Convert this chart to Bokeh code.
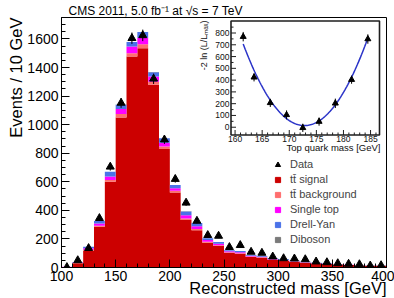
import numpy as np
from bokeh.plotting import figure
from bokeh.models import Range1d, SingleIntervalTicker, Title, Legend, LegendItem
from bokeh.embed import file_html
from bokeh.resources import INLINE
from bokeh.core.properties import value

# ---------------- reconstructed mass spectrum (10 GeV bins) ----------------
bin_low = list(range(100, 400, 10))
signal = [4, 30, 118, 285, 600, 1050, 1477, 1535, 1279, 829, 525, 333, 261, 174, 151,
          104, 97, 74, 68, 54, 48, 40, 34, 28, 24, 21, 17, 14, 12, 12]
tt_background = [0, 2, 6, 8, 12, 25, 23, 28, 22, 18, 12, 10, 8, 6, 5,
                 3, 3, 3, 3, 2, 2, 2, 1, 1, 1, 1, 1, 1, 0, 0]
single_top = [1, 3, 10, 15, 25, 35, 47, 45, 36, 27, 18, 22, 20, 12, 10,
              6, 7, 5, 4, 3, 3, 2, 2, 2, 1, 1, 1, 1, 1, 1]
drell_yan = [1, 4, 12, 18, 33, 30, 31, 40, 30, 30, 22, 27, 23, 13, 13,
             7, 9, 6, 6, 5, 4, 4, 4, 3, 3, 2, 1, 1, 1, 1]
diboson = [0, 0, 0, 0, 0, 1, 1, 1, 1, 1, 1, 1, 0, 0, 0,
           0, 0, 0, 0, 0, 0, 0, 0, 0, 0, 0, 0, 0, 0, 0]
data = [2, 50, 135, 345, 705, 1152, 1605, 1625, 1321, 895, 619, 453, 326, 226, 221,
        142, 156, 109, 102, 76, 64, 62, 57, 41, 36, 29, 25, 22, 13, 15]

component_names = ["t\u0074\u0304 signal", "t\u0074\u0304 background", "Single top",
                   "Drell-Yan", "Diboson"]
component_colors = ["#cc0000", "#ff6e6e", "#ff00ff", "#4a72e8", "#7a7a7a"]

# ---------------- likelihood scan (inset) ----------------
mt_points = [161.5, 163.5, 166.5, 169.5, 172.5, 175.5, 178.5, 181.5, 184.5]
nll_values = [769, 424, 207, 105, -5, 48, 203, 404, 749]
nll_errors = [40, 35, 35, 38, 35, 35, 40, 35, 40]
fit_mt0, fit_curvature, fit_min = 172.8, 5.43, 14.0

inset_x_ticks = [160, 165, 170, 175, 180, 185]
inset_y_ticks = [0, 100, 200, 300, 400, 500, 600, 700, 800]

FONT = "Liberation Sans"
W, H = 394, 298
F_LEFT, F_TOP, F_RIGHT, F_BOTTOM = 61, 17, 386, 267

p = figure(width=W, height=H, output_backend="svg", toolbar_location=None,
           x_range=Range1d(100, 400), y_range=Range1d(0, 1750),
           min_border_left=F_LEFT, min_border_right=W - F_RIGHT,
           min_border_top=F_TOP, min_border_bottom=H - F_BOTTOM)
p.grid.visible = False
p.outline_line_color = "black"
p.outline_line_width = 1
p.background_fill_color = "white"
p.border_fill_color = "white"

# header
p.title.text = "CMS 2011, 5.0 fb\u207b\u00b9 at \u221as = 7 TeV"
p.title.align = "left"
p.title.offset = 7
p.title.standoff = 0
p.title.text_font = FONT
p.title.text_font_size = "12px"
p.title.text_font_style = "normal"
p.title.text_color = "black"

# stacked histogram, drawn as one step area per component
edges = np.array(bin_low + [400], dtype=float)
base = np.zeros(len(bin_low))
for vals, col in zip([signal, tt_background, single_top, drell_yan, diboson], component_colors):
    top = base + np.array(vals, dtype=float)
    p.varea_step(x=edges, y1=np.append(base, base[-1]), y2=np.append(top, top[-1]),
                 step_mode="after", fill_color=col)
    base = top

# data points with Poisson errors
centers = np.array(bin_low) + 5.0
d = np.array(data, dtype=float)
err = np.sqrt(d)
p.segment(x0=centers, y0=d - err, x1=centers, y1=d + err, line_color="black", line_width=1)
r_data = p.scatter(x=centers, y=d, marker="triangle", size=8,
                   fill_color="black", line_color="black")

# axes
for ax, interval, nminor in [(p.xaxis, 50, 5), (p.yaxis, 200, 4)]:
    ax.ticker = SingleIntervalTicker(interval=interval, num_minor_ticks=nminor)
    ax.major_tick_in = 8
    ax.major_tick_out = 0
    ax.minor_tick_in = 4
    ax.minor_tick_out = 0
    ax.axis_line_color = "black"
    ax.major_tick_line_color = "black"
    ax.minor_tick_line_color = "black"
    ax.major_label_text_font = FONT
    ax.major_label_text_font_size = "14px"
    ax.major_label_text_color = "black"
p.xaxis.major_label_standoff = 3
p.yaxis.major_label_standoff = 3

# axis titles, aligned to the top / right ends of the axes
p.add_layout(Title(text="Events / 10 GeV", align="right", standoff=0,
                   text_font=FONT, text_font_size="16.5px", text_font_style="normal",
                   text_color="black"), "left")
p.add_layout(Title(text="Reconstructed mass [GeV]", align="right", vertical_align="top",
                   standoff=-9, text_font=FONT, text_font_size="16.5px",
                   text_font_style="normal", text_color="black"), "below")

# legend
items = [LegendItem(label="Data", renderers=[r_data])]
for name, col in zip(component_names, component_colors):
    r = p.scatter(x=[np.nan], y=[np.nan], marker="square", fill_color=col, line_color=col)
    items.append(LegendItem(label=name, renderers=[r]))
legend = Legend(items=items, location=(210, 21.5), glyph_width=13, glyph_height=13,
                label_height=13, spacing=2, padding=0, margin=0, label_standoff=6,
                label_text_font=FONT, label_text_font_size="11px",
                border_line_color=None, background_fill_alpha=0)
p.add_layout(legend)

# ---------------- inset: likelihood scan ----------------
IN_L, IN_T, IN_R, IN_B = 230.5, 20.5, 379.0, 134.5
IN_X = (159.25, 186.65)
IN_Y = (-66.0, 902.0)
gx = (IN_X[1] - IN_X[0]) / (IN_R - IN_L)
gy = (IN_Y[1] - IN_Y[0]) / (IN_B - IN_T)
p.extra_x_ranges = {"mt": Range1d(IN_X[0] - (IN_L - F_LEFT) * gx, IN_X[1] + (F_RIGHT - IN_R) * gx)}
p.extra_y_ranges = {"nll": Range1d(IN_Y[0] - (F_BOTTOM - IN_B) * gy, IN_Y[1] + (IN_T - F_TOP) * gy)}
kw = dict(x_range_name="mt", y_range_name="nll")

p.quad(left=[IN_X[0]], right=[IN_X[1]], bottom=[IN_Y[0]], top=[IN_Y[1]],
       fill_color="white", line_color="#1e1e1e", line_width=1.6, **kw)

minor_x = [m for m in range(160, 187) if m % 5]
minor_y = [v + 50 for v in inset_y_ticks if v + 50 < IN_Y[1]]
p.ray(x=inset_x_ticks, y=[IN_Y[0]] * len(inset_x_ticks), length=5, length_units="screen",
      angle=np.pi / 2, line_color="#1e1e1e", **kw)
p.ray(x=minor_x, y=[IN_Y[0]] * len(minor_x), length=2.5, length_units="screen",
      angle=np.pi / 2, line_color="#1e1e1e", **kw)
p.ray(x=[IN_X[0]] * len(inset_y_ticks), y=inset_y_ticks, length=5, length_units="screen",
      angle=0, line_color="#1e1e1e", **kw)
p.ray(x=[IN_X[0]] * len(minor_y), y=minor_y, length=2.5, length_units="screen",
      angle=0, line_color="#1e1e1e", **kw)

p.text(x=inset_x_ticks, y=[IN_Y[0]] * len(inset_x_ticks), text=[str(t) for t in inset_x_ticks],
       text_align="center", text_baseline="top", y_offset=1, text_font=value(FONT),
       text_font_size="8.5px", text_color="#111111", **kw)
p.text(x=[IN_X[0]] * len(inset_y_ticks), y=inset_y_ticks, text=[str(t) for t in inset_y_ticks],
       text_align="right", text_baseline="middle", x_offset=-1.5, text_font=value(FONT),
       text_font_size="8.5px", text_color="#111111", **kw)
p.text(x=[IN_X[0] - 27.5 * gx], y=[IN_Y[1] + 0.5 * gy], text=["-2 ln (L/L\u2098\u2090\u2093)"],
       angle=np.pi / 2, text_align="right", text_baseline="middle", text_font=value(FONT),
       text_font_size="9px", text_color="#111111", **kw)
p.text(x=[IN_X[1] + 1 * gx], y=[IN_Y[0] - 12.5 * gy], text=["Top quark mass [GeV]"],
       text_align="right", text_baseline="middle", text_font=value(FONT),
       text_font_size="9.5px", text_color="#111111", **kw)

# fitted parabola
mt_grid = np.linspace(mt_points[0], mt_points[-1], 120)
p.line(x=mt_grid, y=fit_curvature * (mt_grid - fit_mt0) ** 2 + fit_min,
       line_color="#2a33c8", line_width=1.5, **kw)

mv = np.array(nll_values, dtype=float)
me = np.array(nll_errors, dtype=float)
p.segment(x0=mt_points, y0=mv - me, x1=mt_points, y1=mv + me, line_color="black",
          line_width=1, **kw)
p.scatter(x=mt_points, y=mv, marker="triangle", size=6, fill_color="black",
          line_color="black", **kw)

open("out.html", "w").write(file_html(p, INLINE))
